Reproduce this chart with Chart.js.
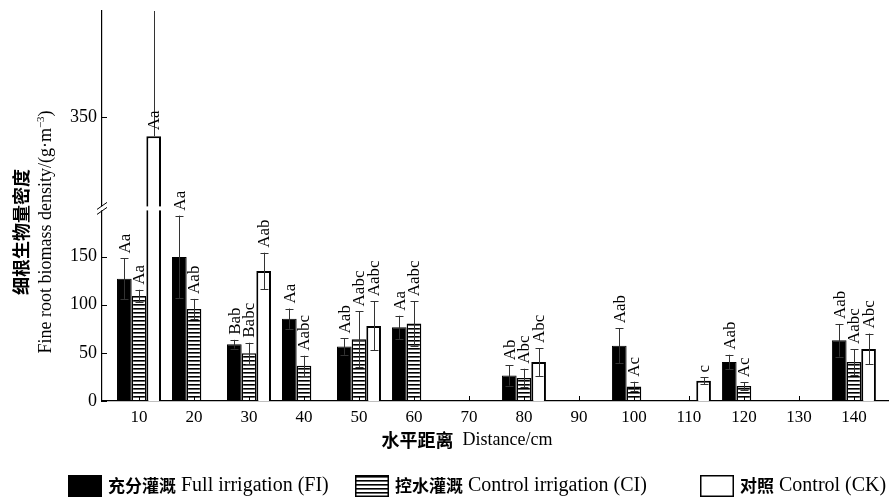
<!DOCTYPE html>
<html>
<head>
<meta charset="utf-8">
<script src="https://cdn.jsdelivr.net/npm/chart.js@4.4.1/dist/chart.umd.min.js"></script>
<style>
  html, body { margin: 0; padding: 0; background: #fff; }
  #wrap { position: relative; width: 890px; height: 499px; }
  canvas { display: block; }
</style>
</head>
<body>
<div id="wrap"><canvas id="c" width="890" height="499"></canvas></div>
<script>
// Horizontal distance from the emitter (cm)
const distances = [10, 20, 30, 40, 50, 60, 70, 80, 90, 100, 110, 120, 130, 140];

// Fine root biomass density (g·m-3), standard deviation and significance letters
const fullIrrigation      = [127, 149.5, 59, 85.5, 56.5, 76.5, null, 26.5, null, 57.5, null, 40.5, null, 63];
const fullIrrigationErr   = [21, 43, 4.5, 10.5, 8.5, 12, null, 10.5, null, 18, null, 7.5, null, 17];
const fullIrrigationSig   = ['Aa', 'Aa', 'Bab', 'Aa', 'Aab', 'Aa', null, 'Ab', null, 'Aab', null, 'Aab', null, 'Aab'];

const controlIrrigation    = [109, 95.5, 49.5, 36.5, 64, 80.5, null, 24, null, 15, null, 15.5, null, 40.5];
const controlIrrigationErr = [6.5, 10.5, 11, 10.5, 29, 23, null, 9.5, null, 5, null, 4, null, 13.5];
const controlIrrigationSig = ['Aa', 'Aab', 'Babc', 'Aabc', 'Aabc', 'Aabc', null, 'Abc', null, 'Ac', null, 'Ac', null, 'Aabc'];

const control    = [330, null, 135, null, 78, null, null, 40.5, null, null, 21, null, null, 54];
const controlErr = [150, null, 19, null, 25.5, null, null, 14.5, null, null, 3.5, null, null, 16];
const controlSig = ['Aa', null, 'Aab', null, 'Aabc', null, null, 'Abc', null, null, 'c', null, null, 'Abc'];

// Value axis: visible ticks and the omitted band of the broken axis
const yTicks = [0, 50, 100, 150, 350];
const yBreak = [200, 255];
const yMax = 460;

const SERIF = '"Liberation Serif", "Times New Roman", serif';
const CJK = '"Noto Sans CJK SC", sans-serif';

// Linear scale with a section removed between yBreak[0] and yBreak[1]
class BrokenLinearScale extends Chart.LinearScale {
  _fold(v) {
    const [a, b] = yBreak;
    if (v <= a) return v;
    if (v >= b) return v - (b - a);
    return a;
  }
  getPixelForValue(value) {
    if (value === null || isNaN(value)) return NaN;
    const lo = this._fold(this.min), hi = this._fold(this.max);
    return this.getPixelForDecimal((this._fold(value) - lo) / (hi - lo));
  }
  getValueForPixel(pixel) {
    const lo = this._fold(this.min), hi = this._fold(this.max);
    const f = lo + this.getDecimalForPixel(pixel) * (hi - lo);
    return f <= yBreak[0] ? f : f + (yBreak[1] - yBreak[0]);
  }
}
BrokenLinearScale.id = 'brokenLinear';
BrokenLinearScale.defaults = Chart.LinearScale.defaults;
Chart.register(BrokenLinearScale);

// Horizontal hatch used for the controlled-irrigation bars
function hatchPattern() {
  const p = document.createElement('canvas');
  p.width = 4; p.height = 4;
  const g = p.getContext('2d');
  g.fillStyle = '#fff';
  g.fillRect(0, 0, 4, 4);
  g.fillStyle = '#000';
  g.fillRect(0, 0, 4, 1.6);
  return g.createPattern(p, 'repeat');
}
const hatch = hatchPattern();

const toPoints = arr => distances.map((d, i) => ({ x: d, y: arr[i] }));

const seriesExtras = [
  { err: fullIrrigationErr, sig: fullIrrigationSig },
  { err: controlIrrigationErr, sig: controlIrrigationSig },
  { err: controlErr, sig: controlSig }
];

function drawRuns(ctx, runs, x, y) {
  let cx = x;
  runs.forEach(r => {
    ctx.font = r.font;
    ctx.fillText(r.text, cx, y);
    cx += ctx.measureText(r.text).width;
  });
  return cx;
}
function runsWidth(ctx, runs) {
  return runs.reduce((w, r) => { ctx.font = r.font; return w + ctx.measureText(r.text).width; }, 0);
}

const decorations = {
  id: 'decorations',
  afterDatasetsDraw(chart) {
    const { ctx, chartArea, scales: { x, y } } = chart;
    const breakPx = y.getPixelForValue(yBreak[0]);
    ctx.save();

    // gap where a bar passes through the axis break
    chart.data.datasets.forEach((ds, di) => {
      chart.getDatasetMeta(di).data.forEach((el, i) => {
        const v = ds.data[i].y;
        if (v == null || v <= yBreak[1]) return;
        ctx.fillStyle = '#fff';
        ctx.fillRect(el.x - el.width / 2 - 2, breakPx - 2, el.width + 4, 4);
      });
    });

    // error bars
    ctx.strokeStyle = '#333';
    ctx.lineWidth = 1;
    chart.data.datasets.forEach((ds, di) => {
      const err = seriesExtras[di].err;
      chart.getDatasetMeta(di).data.forEach((el, i) => {
        const v = ds.data[i].y;
        if (v == null || err[i] == null) return;
        const hi = v + err[i], lo = v - err[i];
        const clipped = hi > y.max;
        const top = clipped ? chartArea.top : y.getPixelForValue(hi);
        // the lower whisker is left out when it would cross the break
        const skipLow = v > yBreak[1] && lo < yBreak[1];
        const bot = skipLow ? el.y : y.getPixelForValue(Math.max(lo, 0));
        const cx = Math.round(el.x) + 0.5;
        ctx.beginPath();
        ctx.moveTo(cx, bot);
        ctx.lineTo(cx, top);
        if (!clipped) { ctx.moveTo(cx - 4, Math.round(top) + 0.5); ctx.lineTo(cx + 4, Math.round(top) + 0.5); }
        if (!skipLow) { ctx.moveTo(cx - 4, Math.round(bot) + 0.5); ctx.lineTo(cx + 4, Math.round(bot) + 0.5); }
        ctx.stroke();
      });
    });

    // significance letters, written bottom-to-top above each bar
    ctx.fillStyle = '#000';
    ctx.font = '17px ' + SERIF;
    ctx.textAlign = 'left';
    ctx.textBaseline = 'middle';
    chart.data.datasets.forEach((ds, di) => {
      const { err, sig } = seriesExtras[di];
      chart.getDatasetMeta(di).data.forEach((el, i) => {
        const v = ds.data[i].y;
        if (v == null || !sig[i]) return;
        const hi = v + (err[i] || 0);
        const base = hi > y.max ? el.y - 6 : y.getPixelForValue(hi) - 5;
        ctx.save();
        ctx.translate(el.x + 1, base);
        ctx.rotate(-Math.PI / 2);
        ctx.fillText(sig[i], 0, 0);
        ctx.restore();
      });
    });
    ctx.restore();
  },
  afterDraw(chart) {
    const { ctx, chartArea, scales: { x, y } } = chart;
    const left = chartArea.left, bottom = chartArea.bottom;
    ctx.save();
    ctx.strokeStyle = '#000';
    ctx.lineWidth = 1;

    // inward tick marks
    ctx.beginPath();
    yTicks.forEach(t => {
      const py = Math.round(y.getPixelForValue(t)) + 0.5;
      ctx.moveTo(left, py); ctx.lineTo(left + 5, py);
    });
    distances.forEach(d => {
      const px = Math.round(x.getPixelForValue(d)) + 0.5;
      ctx.moveTo(px, bottom); ctx.lineTo(px, bottom - 5);
    });
    ctx.stroke();

    // axis break marks
    const bp = y.getPixelForValue(yBreak[0]);
    ctx.fillStyle = '#fff';
    ctx.fillRect(left - 2, bp - 2, 4, 4);
    ctx.beginPath();
    ctx.moveTo(left - 5, bp + 1); ctx.lineTo(left + 5, bp - 6);
    ctx.moveTo(left - 5, bp + 6); ctx.lineTo(left + 5, bp - 1);
    ctx.stroke();

    // y-axis title (two lines, rotated)
    ctx.fillStyle = '#000';
    ctx.textBaseline = 'middle';
    const cy = 232;
    [[{ text: '细根生物量密度', font: 'bold 18px ' + CJK }],
     [{ text: 'Fine root biomass density/(g·m', font: '18px ' + SERIF },
      { text: '−3', font: '11px ' + SERIF, sup: true },
      { text: ')', font: '18px ' + SERIF }]
    ].forEach((runs, li) => {
      const w = runsWidth(ctx, runs);
      ctx.save();
      ctx.translate(li === 0 ? 21 : 46, cy);
      ctx.rotate(-Math.PI / 2);
      let cx = -w / 2;
      runs.forEach(r => {
        ctx.font = r.font;
        ctx.fillText(r.text, cx, r.sup ? -5 : 0);
        cx += ctx.measureText(r.text).width;
      });
      ctx.restore();
    });

    // x-axis title
    const xt = [{ text: '水平距离', font: 'bold 18px ' + CJK }, { text: '  Distance/cm', font: '18px ' + SERIF }];
    drawRuns(ctx, xt, 467 - runsWidth(ctx, xt) / 2, 440);

    // legend
    const ly = 486;
    const items = [
      { box: 68,  fill: '#000', text: [{ text: '充分灌溉', font: 'bold 17px ' + CJK }, { text: ' Full irrigation (FI)', font: '20px ' + SERIF }] },
      { box: 355, fill: hatch,  text: [{ text: '控水灌溉', font: 'bold 17px ' + CJK }, { text: ' Control irrigation (CI)', font: '20px ' + SERIF }] },
      { box: 700, fill: '#fff', text: [{ text: '对照', font: 'bold 17px ' + CJK }, { text: ' Control (CK)', font: '20px ' + SERIF }] }
    ];
    items.forEach(it => {
      ctx.fillStyle = it.fill;
      ctx.fillRect(it.box, ly - 11, 34, 22);
      ctx.lineWidth = 1.5;
      ctx.strokeStyle = '#000';
      ctx.strokeRect(it.box + 0.75, ly - 10.25, 32.5, 20.5);
      ctx.fillStyle = '#000';
      drawRuns(ctx, it.text, it.box + 40, ly);
    });
    ctx.restore();
  }
};

new Chart(document.getElementById('c'), {
  type: 'bar',
  data: {
    datasets: [
      { label: '充分灌溉 Full irrigation (FI)', data: toPoints(fullIrrigation),
        backgroundColor: '#000', borderColor: '#000', borderWidth: 1 },
      { label: '控水灌溉 Control irrigation (CI)', data: toPoints(controlIrrigation),
        backgroundColor: hatch, borderColor: '#000', borderWidth: 1.5 },
      { label: '对照 Control (CK)', data: toPoints(control),
        backgroundColor: '#fff', borderColor: '#000', borderWidth: 2 }
    ]
  },
  options: {
    responsive: false,
    animation: false,
    devicePixelRatio: 1,
    layout: { padding: { top: 11, right: 2, left: 0, bottom: 0 } },
    categoryPercentage: 0.8,
    barPercentage: 1.0,
    plugins: { legend: { display: false }, tooltip: { enabled: false } },
    scales: {
      x: {
        type: 'linear',
        offset: false,
        min: 3.27,
        max: 146.2,
        afterBuildTicks: s => { s.ticks = distances.map(v => ({ value: v })); },
        afterFit: s => { s.height = 98; s.paddingLeft = 0; s.paddingRight = 0; },
        grid: { display: false, drawTicks: false },
        border: { display: true, color: '#000', width: 1.2 },
        ticks: { color: '#000', font: { family: SERIF, size: 17 }, padding: 6, maxRotation: 0, autoSkip: false,
                 callback: v => String(v) }
      },
      y: {
        type: 'brokenLinear',
        min: 0,
        max: yMax,
        afterBuildTicks: s => { s.ticks = yTicks.map(v => ({ value: v })); },
        afterFit: s => { s.width = 102; s.paddingTop = 0; s.paddingBottom = 0; },
        grid: { display: false, drawTicks: false },
        border: { display: true, color: '#000', width: 1.2 },
        ticks: { color: '#000', font: { family: SERIF, size: 18 }, padding: 5, callback: v => String(v) }
      }
    }
  },
  plugins: [decorations]
});
</script>
</body>
</html>
